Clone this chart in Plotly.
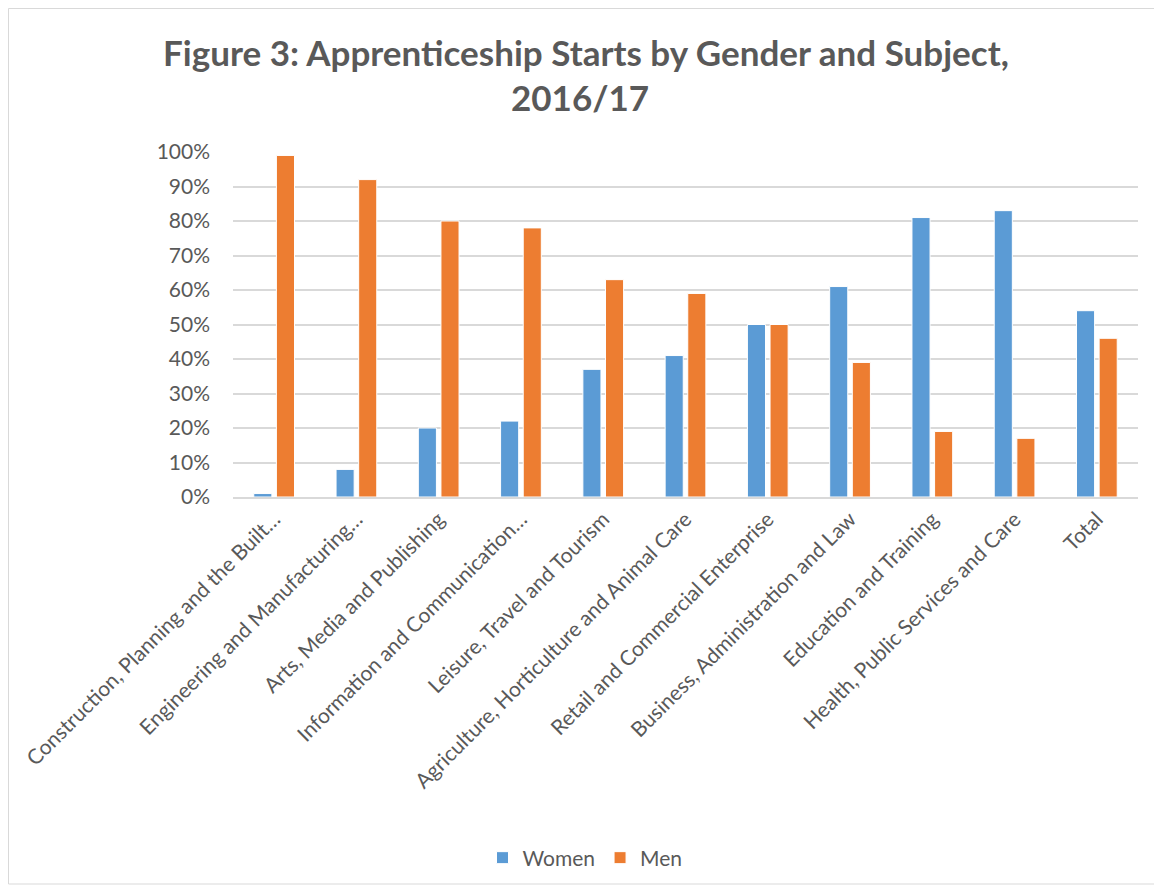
import plotly.graph_objects as go

categories = [
    "Construction, Planning and the Built…",
    "Engineering and Manufacturing…",
    "Arts, Media and Publishing",
    "Information and Communication…",
    "Leisure, Travel and Tourism",
    "Agriculture, Horticulture and Animal Care",
    "Retail and Commercial Enterprise",
    "Business, Administration and Law",
    "Education and Training",
    "Health, Public Services and Care",
    "Total",
]
women = [0.01, 0.08, 0.20, 0.22, 0.37, 0.41, 0.50, 0.61, 0.81, 0.83, 0.54]
men = [0.99, 0.92, 0.80, 0.78, 0.63, 0.59, 0.50, 0.39, 0.19, 0.17, 0.46]
title_lines = ["Figure 3: Apprenticeship Starts by Gender and Subject,", "2016/17"]

FONT = "Lato, Open Sans, sans-serif"
GREY = "#595959"

fig = go.Figure()
fig.add_trace(go.Bar(name="Women", x=categories, y=women,
                     marker=dict(color="#5B9BD5", line=dict(color="white", width=1))))
fig.add_trace(go.Bar(name="Men", x=categories, y=men,
                     marker=dict(color="#ED7D31", line=dict(color="white", width=1))))

# page body has an 8px margin, so the figure is sized/placed to compensate
W, H = 1154, 882
ml, mr, mt, mb = 225, 24, 144, 393
pw, ph = W - ml - mr, H - mt - mb

def px_to_paper_x(px):
    return (px - ml) / pw

def px_to_paper_y(py):
    return (H - mb - py) / ph

fig.update_layout(
    width=W, height=H,
    margin=dict(l=ml, r=mr, t=mt, b=mb),
    paper_bgcolor="white", plot_bgcolor="white",
    barmode="group", bargap=0.45, bargroupgap=0.2,
    font=dict(family=FONT, color=GREY),
    legend=dict(orientation="h", x=0.5, xref="container", xanchor="center",
                y=(H - 850) / H, yref="container", yanchor="middle",
                font=dict(size=21, color=GREY), itemwidth=30, tracegroupgap=0),
    showlegend=True,
    xaxis=dict(tickangle=-45, tickfont=dict(size=21, color=GREY),
               showline=True, linecolor="#D9D9D9", linewidth=1.5,
               ticks="", showgrid=False),
    yaxis=dict(range=[0, 1], dtick=0.1, tickformat=".0%",
               tickfont=dict(size=21, color=GREY),
               showgrid=True, gridcolor="#D9D9D9", gridwidth=1.5,
               zeroline=False, ticklabelstandoff=22),
    annotations=[
        dict(text="<b>%s</b>" % title_lines[0], xref="paper", yref="paper",
             x=px_to_paper_x(578), y=px_to_paper_y(44), xanchor="center", yanchor="middle",
             showarrow=False, font=dict(size=35, color=GREY, family=FONT)),
        dict(text="<b>%s</b>" % title_lines[1], xref="paper", yref="paper",
             x=px_to_paper_x(572), y=px_to_paper_y(89), xanchor="center", yanchor="middle",
             showarrow=False, font=dict(size=35, color=GREY, family=FONT)),
    ],
    shapes=[dict(type="rect", xref="paper", yref="paper",
                 x0=px_to_paper_x(0.5), x1=px_to_paper_x(1147),
                 y0=px_to_paper_y(876), y1=px_to_paper_y(0.5),
                 line=dict(color="#D9D9D9", width=1), fillcolor="rgba(0,0,0,0)",
                 layer="below")],
)

fig.write_html("out.html")
